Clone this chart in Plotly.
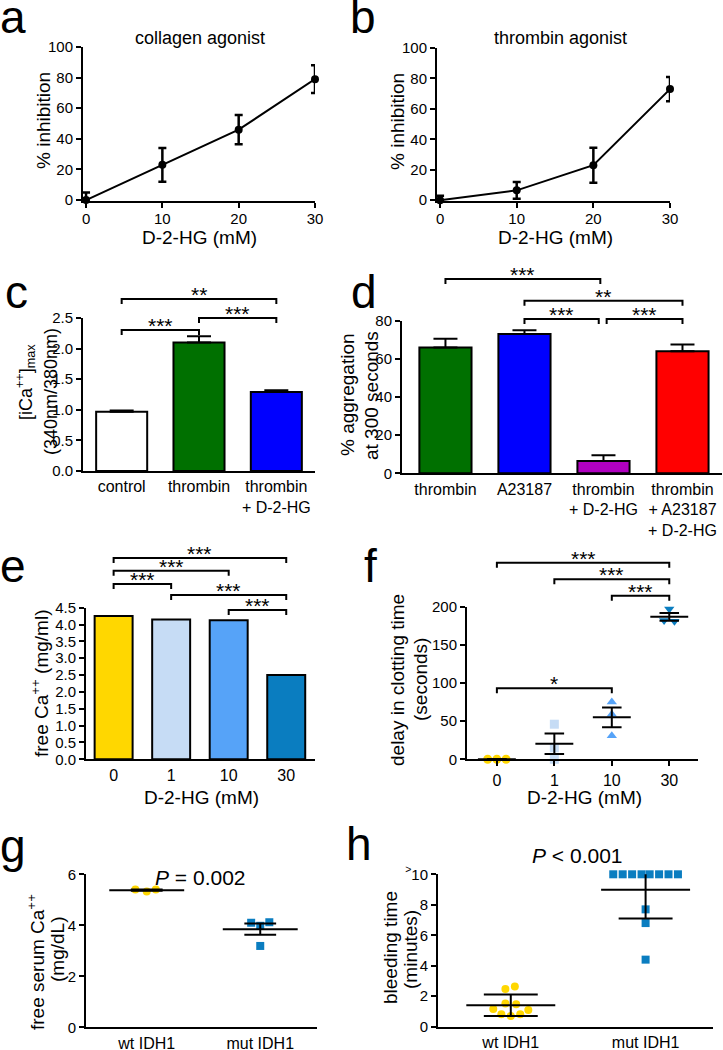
import numpy as np
import plotly.graph_objects as go

W, H = 723, 1050
FONT = "Arial, 'Liberation Sans', Helvetica, sans-serif"

# ---------------- data ----------------
# a: collagen agonist
a_dose = [0, 10, 20, 30]
a_inhib = [0, 23, 46, 79]
a_err = [5, 11, 9.5, 9]
# b: thrombin agonist
b_dose = [0, 10, 20, 30]
b_inhib = [0, 6.5, 23, 73]
b_err = [3, 5.5, 11.5, 8]
# c: [iCa++]max
c_cats = ["control", "thrombin", "thrombin<br>+ D-2-HG"]
c_vals = [0.97, 2.10, 1.29]
c_err = [0.02, 0.10, 0.03]
# d: % aggregation at 300 s
d_cats = ["thrombin", "A23187", "thrombin<br>+ D-2-HG", "thrombin<br>+ A23187<br>+ D-2-HG"]
d_vals = [66, 73, 6.5, 64]
d_err = [4.5, 2.0, 3.0, 3.5]
# e: free Ca++
e_cats = ["0", "1", "10", "30"]
e_vals = [4.25, 4.15, 4.13, 2.50]
# f: delay in clotting time
f_cats = ["0", "1", "10", "30"]
f_vals = [[0, 0, 0], [46, 15, 0], [75, 59, 31], [197, 182, 181]]
# g: free serum Ca++
g_cats = ["wt IDH1", "mut IDH1"]
g_wt = [5.40, 5.33, 5.40]
g_mut = [4.10, 4.12, 3.98, 3.19]
# h: bleeding time
h_cats = ["wt IDH1", "mut IDH1"]
h_wt = [2.48, 2.63, 1.16, 1.53, 1.47, 1.10, 0.81, 0.70, 0.81]
h_mut = [10, 10, 10, 10, 10, 10, 10, 10, 7.7, 6.8, 4.4]
h_tickvals = [0, 2, 4, 6, 8, 10]
h_ticktext = ["0", "2", "4", "6", "8", "<sup>></sup>10"]

# ---------------- styling / layout geometry ----------------
c_colors = ["#FFFFFF", "#007000", "#0000FF"]
d_colors = ["#007000", "#0000FF", "#B000C0", "#FF0000"]
dose_colors = ["#FFD700", "#C6DCF5", "#56A3F8", "#0A7DC0"]
f_symbols = ["circle", "square", "triangle-up", "triangle-down"]
f_jitter = [[-0.16, 0, 0.16], [0, 0, 0], [0, 0, 0], [0, -0.09, 0.09]]
g_wt_jitter = [-0.1, 0.0, 0.08]
g_mut_jitter = [-0.08, 0.08, 0.0, 0.0]
h_wt_jitter = [-0.04, 0.03, -0.13, -0.04, 0.04, 0.13, -0.07, 0.0, 0.07]
h_mut_jitter = [-0.24, -0.17, -0.1, -0.03, 0.03, 0.1, 0.17, 0.24, 0, 0, 0]

GEOM = {
    'a': dict(k=1, x=(83, 315), xr=(-0.4, 30), y=(47, 201), yr=(-0.6, 100)),
    'b': dict(k=2, x=(437, 670), xr=(-0.4, 30), y=(48, 201), yr=(-0.5, 100)),
    'c': dict(k=3, x=(83, 315), xr=(-0.5, 2.5), y=(318, 471), yr=(0, 2.5)),
    'd': dict(k=4, x=(402, 722), xr=(-0.55, 3.5), y=(320.7, 473.3), yr=(0, 80)),
    'e': dict(k=5, x=(86, 315), xr=(-0.48, 3.5), y=(607.7, 759.3), yr=(0, 4.5)),
    'f': dict(k=6, x=(467, 698), xr=(-0.52, 3.5), y=(606.7, 759.3), yr=(0, 200)),
    'g': dict(k=7, x=(86, 317), xr=(-0.535, 1.5), y=(874.3, 1027.3), yr=(0, 6)),
    'h': dict(k=8, x=(438, 713), xr=(-0.54, 1.5), y=(874.3, 1026.7), yr=(0, 10)),
}


def px_x(p, v):
    g = GEOM[p]
    (x0, x1), (r0, r1) = g['x'], g['xr']
    return x0 + (v - r0) / (r1 - r0) * (x1 - x0)


def PX(px):
    return px / W


def PY(py):
    return 1 - py / H


def axn(p):
    k = GEOM[p]['k']
    return ('x' if k == 1 else f'x{k}'), ('y' if k == 1 else f'y{k}')


fig = go.Figure()
layout = dict(width=W, height=H, margin=dict(l=0, r=0, t=0, b=0, autoexpand=False),
              paper_bgcolor='white', plot_bgcolor='white', showlegend=False,
              font=dict(family=FONT, color='black'))

base = dict(showline=True, linecolor='black', linewidth=2, showgrid=False, zeroline=False,
            ticks='outside', ticklen=5, tickwidth=2, tickcolor='black',
            tickfont=dict(family=FONT, size=15, color='black'), fixedrange=True)

for p, g in GEOM.items():
    k = g['k']
    xa, ya = axn(p)
    xd = [PX(g['x'][0]), PX(g['x'][1])]
    yd = [PY(g['y'][1]), PY(g['y'][0])]
    xax = dict(base, domain=xd, range=list(g['xr']), anchor=ya)
    yax = dict(base, domain=yd, range=list(g['yr']), anchor=xa)
    layout['xaxis' if k == 1 else f'xaxis{k}'] = xax
    layout['yaxis' if k == 1 else f'yaxis{k}'] = yax


def set_axis(p, letter, **kw):
    k = GEOM[p]['k']
    key = (letter + 'axis') if k == 1 else f'{letter}axis{k}'
    layout[key].update(kw)


# x axes
for p in ['a', 'b']:
    set_axis(p, 'x', tickvals=[0, 10, 20, 30], ticklabelstandoff=-2)
    set_axis(p, 'y', tickvals=[0, 20, 40, 60, 80, 100])
for p, cats in [('c', c_cats), ('d', d_cats), ('e', e_cats), ('g', g_cats), ('h', h_cats)]:
    set_axis(p, 'x', tickvals=list(range(len(cats))), ticktext=cats,
             ticks='', tickfont=dict(family=FONT, size=16, color='black'))
set_axis('f', 'x', tickvals=list(range(len(f_cats))), ticktext=f_cats,
         tickfont=dict(family=FONT, size=16, color='black'))
set_axis('c', 'y', tickvals=[0, 0.5, 1.0, 1.5, 2.0, 2.5], tickformat='.1f')
set_axis('d', 'y', tickvals=[0, 20, 40, 60, 80])
set_axis('e', 'y', dtick=0.5, tick0=0, tickformat='.1f')
set_axis('f', 'y', tickvals=[0, 50, 100, 150, 200])
set_axis('g', 'y', tickvals=[0, 2, 4, 6])
set_axis('h', 'y', tickvals=h_tickvals, ticktext=h_ticktext)

# ---------------- traces ----------------
for p, xs, ys, es in [('a', a_dose, a_inhib, a_err), ('b', b_dose, b_inhib, b_err)]:
    xa, ya = axn(p)
    fig.add_trace(go.Scatter(x=xs, y=ys, mode='lines+markers', xaxis=xa, yaxis=ya,
                             line=dict(color='black', width=2),
                             marker=dict(color='black', size=8),
                             error_y=dict(type='data', array=es, color='black', thickness=2.5, width=4),
                             cliponaxis=False))

for p, cats, vals, errs, cols in [('c', c_cats, c_vals, c_err, c_colors),
                                   ('d', d_cats, d_vals, d_err, d_colors)]:
    xa, ya = axn(p)
    fig.add_trace(go.Bar(x=list(range(len(cats))), y=vals, width=0.66, xaxis=xa, yaxis=ya,
                         marker=dict(color=cols, line=dict(color='black', width=2)),
                         error_y=dict(type='data', symmetric=False, array=errs,
                                      arrayminus=[0] * len(errs), color='black',
                                      thickness=2, width=12)))

xa, ya = axn('e')
fig.add_trace(go.Bar(x=list(range(len(e_cats))), y=e_vals, width=0.66, xaxis=xa, yaxis=ya,
                     marker=dict(color=dose_colors, line=dict(color='black', width=2))))


def stats(v, kind):
    v = np.asarray(v, float)
    m = v.mean()
    sd = v.std(ddof=1)
    return m, (sd / np.sqrt(len(v)) if kind == 'sem' else sd)


def mean_err_trace(p, i, vals, kind, hm, hc):
    xa, ya = axn(p)
    m, e = stats(vals, kind)
    xs = [i - hm, i + hm, None, i, i, None, i - hc, i + hc, None, i - hc, i + hc]
    ys = [m, m, None, m - e, m + e, None, m + e, m + e, None, m - e, m - e]
    return go.Scatter(x=xs, y=ys, mode='lines', xaxis=xa, yaxis=ya,
                      line=dict(color='black', width=2), hoverinfo='skip')


# f
xa, ya = axn('f')
for i, vals in enumerate(f_vals):
    fig.add_trace(go.Scatter(x=[i + j for j in f_jitter[i]], y=vals, mode='markers',
                             xaxis=xa, yaxis=ya, cliponaxis=False,
                             marker=dict(symbol=f_symbols[i], color=dose_colors[i], size=9)))
for i, vals in enumerate(f_vals):
    fig.add_trace(mean_err_trace('f', i, vals, 'sem', 0.33, 0.17))

# g, h
for p, wt, mut, wj, mj, kind, hc in [('g', g_wt, g_mut, g_wt_jitter, g_mut_jitter, 'sem', 0.14),
                                      ('h', h_wt, h_mut, h_wt_jitter, h_mut_jitter, 'sd', 0.2)]:
    xa, ya = axn(p)
    fig.add_trace(go.Scatter(x=[0 + j for j in wj], y=wt, mode='markers', xaxis=xa, yaxis=ya,
                             cliponaxis=False,
                             marker=dict(symbol='circle', color=dose_colors[0], size=8)))
    fig.add_trace(go.Scatter(x=[1 + j for j in mj], y=mut, mode='markers', xaxis=xa, yaxis=ya,
                             cliponaxis=False,
                             marker=dict(symbol='square', color=dose_colors[3], size=8)))
    fig.add_trace(mean_err_trace(p, 0, wt, kind, 0.33, hc))
    fig.add_trace(mean_err_trace(p, 1, mut, kind, 0.33, hc))

# ---------------- annotations ----------------
anns = []
shapes = []


def ann(text, xpx, ypx, size, xanchor='center', yanchor='middle', angle=0):
    anns.append(dict(text=text, x=PX(xpx), y=PY(ypx), xref='paper', yref='paper',
                     showarrow=False, textangle=angle, xanchor=xanchor, yanchor=yanchor,
                     font=dict(family=FONT, size=size, color='black')))


STAR = 21


def bracket(p, i, j, ypx, label, di=0.0, dj=0.0, tick=5):
    xa_ = px_x(p, i + di)
    xb_ = px_x(p, j + dj)
    path = (f"M {PX(xa_)},{PY(ypx + tick)} L {PX(xa_)},{PY(ypx)} "
            f"L {PX(xb_)},{PY(ypx)} L {PX(xb_)},{PY(ypx + tick)}")
    shapes.append(dict(type='path', path=path, xref='paper', yref='paper',
                       line=dict(color='black', width=2)))
    ann(label, (xa_ + xb_) / 2, ypx - 9 + 0.22 * STAR, STAR)


# c brackets
bracket('c', 0, 1, 330, '***')
bracket('c', 1, 2, 318, '***')
bracket('c', 0, 2, 299, '**')
# d brackets
bracket('d', 0, 2, 279, '***', dj=-0.04)
bracket('d', 1, 3, 300.7, '**')
bracket('d', 1, 2, 319, '***', dj=-0.06)
bracket('d', 2, 3, 319, '***', di=0.04)
# e brackets
bracket('e', 0, 3, 558, '***')
bracket('e', 0, 2, 570.7, '***')
bracket('e', 0, 1, 584, '***')
bracket('e', 1, 3, 595, '***')
bracket('e', 2, 3, 610, '***')
# f brackets
bracket('f', 0, 3, 562.7, '***')
bracket('f', 1, 3, 579.3, '***')
bracket('f', 2, 3, 595.7, '***')
bracket('f', 0, 2, 688.3, '*')

# panel letters
LET = 46
for t, x, y in [('a', -2, 17), ('b', 348, 17), ('c', 3, 292), ('d', 349, 292),
                ('e', -2, 566), ('f', 362, 566), ('g', -2, 846), ('h', 344, 844)]:
    ann(t, x, y, LET, xanchor='left')

# titles
ann('collagen agonist', 200, 38, 18)
ann('thrombin agonist', 560, 38, 18)
ann('<i>P</i> = 0.002', 200, 877, 21)
ann('<i>P</i> &lt; 0.001', 577, 855, 21)

# axis titles
AT = 19
ann('D-2-HG (mM)', 199, 237, AT)
ann('D-2-HG (mM)', 555, 237, AT)
ann('D-2-HG (mM)', 201, 797, AT)
ann('D-2-HG (mM)', 584, 797, AT)
ann('% inhibition', 43, 121, AT, angle=-90)
ann('% inhibition', 398, 122, AT, angle=-90)
ann('[iCa<sup>++</sup>]<sub>max</sub>', 25, 382, 18, angle=-90)
ann('(340nm/380nm)', 51, 392, 18, angle=-90)
ann('% aggregation', 347, 395, AT, angle=-90)
ann('at 300 seconds', 371, 395, AT, angle=-90)
ann('free Ca<sup>++</sup> (mg/ml)', 40, 683, AT, angle=-90)
ann('delay in clotting time', 397, 680, AT, angle=-90)
ann('(seconds)', 420, 680, AT, angle=-90)
ann('free serum Ca<sup>++</sup>', 36, 962, AT, angle=-90)
ann('(mg/dL)', 57, 950, AT, angle=-90)
ann('bleeding time', 391, 948, AT, angle=-90)
ann('(minutes)', 410, 950, AT, angle=-90)

layout['annotations'] = anns
layout['shapes'] = shapes
fig.update_layout(**layout)

POST = ("document.documentElement.style.margin='0';document.documentElement.style.padding='0';"
        "document.body.style.margin='0';document.body.style.padding='0';"
        "document.documentElement.style.overflow='hidden';document.body.style.overflow='hidden';"
        "var gd=document.getElementById('{plot_id}');gd.style.position='fixed';"
        "gd.style.left='0px';gd.style.top='0px';")
fig.write_html("out.html", config={'displayModeBar': False, 'responsive': False},
               post_script=POST)
